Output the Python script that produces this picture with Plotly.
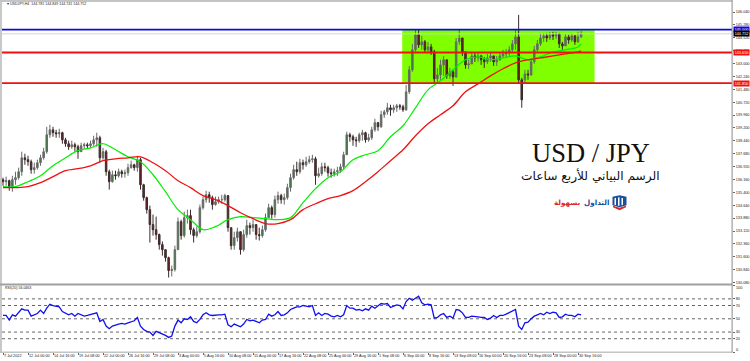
import plotly.graph_objects as go

tick_dates = ["7 Jul 2022","12 Jul 00:00","14 Jul 16:00","19 Jul 08:00","22 Jul 00:00","26 Jul 16:00",
 "29 Jul 08:00","3 Aug 00:00","5 Aug 16:00","10 Aug 08:00","15 Aug 00:00","17 Aug 16:00","22 Aug 08:00",
 "25 Aug 00:00","29 Aug 16:00","1 Sep 08:00","6 Sep 00:00","8 Sep 16:00","13 Sep 08:00","16 Sep 00:00",
 "20 Sep 16:00","23 Sep 08:00","28 Sep 00:00","30 Sep 16:00"]
price_ticks = [146.04,145.28,144.52,143.76,143.0,142.24,141.48,140.72,139.96,139.2,138.44,137.68,136.92,
 136.16,135.4,134.64,133.88,133.12,132.36,131.6,130.84,130.08]
rsi_ticks = [80,70,50,30,20]

closes = [
136.03,136.09,135.74,136.15,136.27,136.62,137.44,137.33,137.21,136.74,
136.86,137.15,137.44,137.80,138.80,139.09,138.92,138.86,138.92,138.50,
138.27,138.09,138.21,138.09,137.80,138.15,138.21,138.15,138.27,138.50,
138.62,137.44,137.80,136.62,136.03,136.44,136.38,136.62,136.50,136.56,
136.86,137.03,136.86,137.33,135.85,135.09,134.38,133.50,133.20,132.91,
132.32,132.02,131.55,130.79,130.85,132.02,133.67,132.85,133.91,134.03,
133.20,132.85,133.08,134.50,134.97,135.26,135.09,134.68,134.85,134.97,
134.97,135.21,133.32,132.26,132.73,133.08,132.02,132.91,133.44,133.32,
133.50,132.91,132.85,133.20,133.91,134.50,134.09,134.97,135.21,134.97,
135.09,135.68,136.27,136.74,136.62,137.15,137.03,137.21,137.33,137.38,
136.38,136.50,136.91,136.86,136.56,136.50,136.62,136.68,136.91,137.62,
138.80,138.68,138.50,138.45,138.80,138.92,138.50,138.62,139.09,139.51,
139.27,139.98,140.15,140.39,140.27,140.39,140.51,140.45,140.27,141.33,
142.63,143.81,144.69,144.10,144.28,143.81,143.98,143.69,142.10,142.33,
142.92,143.22,142.27,142.51,142.21,144.28,144.51,143.69,142.92,142.98,
143.45,143.33,143.45,143.22,143.10,143.33,143.45,143.10,143.22,143.45,
143.57,143.63,143.81,144.16,144.57,142.04,140.86,142.39,142.33,143.10,
143.81,144.16,144.51,144.63,144.51,144.69,144.63,144.75,144.16,144.04,
144.57,144.39,144.63,144.28,144.57,144.75]

opens = [
136.15,136.03,136.09,135.74,136.15,136.27,136.62,137.44,137.33,137.21,
136.74,136.86,137.15,137.44,137.80,138.80,139.09,138.92,138.86,138.92,
138.50,138.27,138.09,138.21,138.09,137.80,138.15,138.21,138.15,138.27,
138.50,138.62,137.44,137.80,136.62,136.03,136.44,136.38,136.62,136.50,
136.56,136.86,137.03,136.86,137.33,135.85,135.09,134.38,133.50,133.20,
132.91,132.32,132.02,131.55,130.79,130.85,132.02,133.67,132.85,133.91,
134.03,133.20,132.85,133.08,134.50,134.97,135.26,135.09,134.68,134.85,
134.97,134.97,135.21,133.32,132.26,132.73,133.08,132.02,132.91,133.44,
133.32,133.50,132.91,132.85,133.20,133.91,134.50,134.09,134.97,135.21,
134.97,135.09,135.68,136.27,136.74,136.62,137.15,137.03,137.21,137.33,
137.38,136.38,136.50,136.91,136.86,136.56,136.50,136.62,136.68,136.91,
137.62,138.80,138.68,138.50,138.45,138.80,138.92,138.50,138.62,139.09,
139.51,139.27,139.98,140.15,140.39,140.27,140.39,140.51,140.45,140.27,
141.33,142.63,143.81,144.69,144.10,144.28,143.81,143.98,143.69,142.10,
142.33,142.92,143.22,142.27,142.51,142.21,144.28,144.51,143.69,142.92,
142.98,143.45,143.33,143.45,143.22,143.10,143.33,143.45,143.10,143.22,
143.45,143.57,143.63,143.81,144.16,144.57,142.04,142.04,142.39,142.33,
143.10,143.81,144.16,144.51,144.63,144.51,144.69,144.63,144.75,144.16,
144.04,144.57,144.39,144.63,144.28,144.57]

highs = [
136.27,136.33,136.15,136.38,136.62,136.86,137.80,137.68,137.56,137.33,
137.15,137.33,137.62,138.03,139.27,139.39,139.27,139.09,139.15,138.98,
138.62,138.45,138.45,138.33,138.21,138.33,138.33,138.33,138.45,138.74,
138.92,138.74,138.03,137.91,136.74,136.68,136.68,136.80,136.74,136.74,
137.09,137.27,137.09,137.56,137.44,135.91,135.15,134.62,134.09,133.97,
132.97,132.50,132.02,131.61,131.08,132.26,133.91,133.79,134.26,134.38,
134.38,133.32,133.38,134.68,135.15,135.50,135.44,135.21,135.15,135.15,
135.26,135.32,135.03,133.32,133.08,133.32,132.91,133.20,133.79,133.62,
133.79,133.44,133.32,133.44,134.15,134.73,134.62,135.21,135.44,135.32,
135.32,135.91,136.50,137.03,137.21,137.38,137.33,137.50,137.56,137.62,
137.50,136.86,137.15,137.15,136.97,136.80,136.80,136.91,137.09,137.80,
138.98,138.92,138.80,138.68,138.92,139.09,138.98,138.86,139.27,139.74,
139.56,140.21,140.27,140.68,140.57,140.57,140.62,140.62,140.57,141.74,
142.86,144.16,144.98,144.98,144.63,144.39,144.28,144.16,143.81,142.74,
143.22,143.45,143.22,142.74,142.63,144.51,145.04,144.51,143.69,143.22,
143.69,143.63,143.69,143.51,143.39,143.57,143.63,143.45,143.45,143.63,
143.81,143.86,144.04,144.39,144.98,145.87,142.16,142.63,142.63,143.33,
144.04,144.39,144.81,144.81,144.81,144.87,144.87,144.87,144.81,144.28,
144.75,144.69,144.81,144.69,144.87,144.92]

lows = [
135.79,135.79,135.50,135.44,135.85,136.15,136.38,137.03,136.97,136.50,
136.50,136.74,136.97,137.33,137.68,138.62,138.68,138.62,138.62,138.27,
138.09,137.91,137.97,137.80,137.38,137.91,137.97,137.97,138.03,138.15,
138.09,137.15,137.33,136.38,135.56,135.97,136.15,136.27,136.27,136.27,
136.38,136.80,136.68,136.62,135.56,134.91,134.15,132.44,132.85,132.61,
132.02,131.67,131.32,130.38,130.44,130.73,132.02,132.61,132.73,133.56,
132.91,132.44,132.73,132.97,134.38,134.79,134.79,134.38,134.62,134.73,
134.73,134.85,133.08,132.02,132.02,132.50,131.73,131.91,132.73,132.91,
133.08,132.61,132.56,132.73,133.08,133.91,133.85,133.91,134.73,134.73,
134.68,134.97,135.44,136.15,136.38,136.50,136.74,136.91,137.09,137.15,
135.85,136.27,136.38,136.62,136.33,136.27,136.33,136.38,136.56,136.74,
137.62,138.39,138.15,138.09,138.33,138.45,138.33,138.39,138.50,138.98,
139.03,139.21,139.80,139.98,139.92,140.09,140.15,140.27,140.15,140.21,
141.21,142.51,143.69,143.92,143.81,143.63,143.63,143.51,141.80,141.80,
142.04,142.27,142.10,142.10,141.68,142.16,144.10,143.45,142.69,142.69,
143.22,143.10,143.10,142.92,142.74,142.98,143.10,142.86,142.86,143.16,
143.33,143.33,143.45,143.69,143.81,141.80,140.39,141.80,142.04,142.27,
142.98,143.69,144.04,144.28,144.28,144.39,144.39,144.45,143.92,143.81,
144.16,144.16,144.28,144.10,144.22,144.51]

rsi_values = [
55,55,48,56,54,60,65,63,63,54,
56,58,63,58,66,72,70,69,68,61,
58,56,58,54,58,56,54,55,56,58,
59,46,49,39,35,39,41,42,43,42,
44,46,47,52,39,34,31,30,25,31,
29,28,25,22,24,39,48,44,50,49,
53,46,44,49,56,59,56,55,56,56,
56,57,41,38,42,40,38,42,49,47,
48,46,44,48,49,57,54,56,61,55,
56,59,64,66,68,68,70,69,68,70,
55,59,55,58,57,54,53,55,53,56,
70,66,66,63,64,62,65,63,69,66,
70,73,72,73,67,69,71,70,65,76,
81,78,81,84,74,71,72,71,51,52,
56,58,52,54,51,64,63,59,52,52,
54,54,53,52,52,49,51,55,52,55,
55,57,59,61,64,39,34,44,45,50,
54,56,58,56,60,58,60,59,52,53,
57,55,55,53,57,56]

ma_index = list(range(0, 185, 4)) + [185]
ma_fast = [135.74,135.74,136.03,136.38,136.97,137.44,137.86,138.03,138.27,137.91,137.50,137.21,
136.44,135.44,134.38,133.79,133.20,133.38,133.79,133.97,133.91,133.85,133.79,133.91,134.79,135.62,
136.27,136.62,137.33,137.62,137.86,138.68,139.33,140.39,141.45,141.98,142.63,143.22,143.39,143.22,
143.33,143.45,143.22,143.39,143.69,143.81,143.98,144.16]
ma_slow = [135.68,135.68,135.74,135.97,136.33,136.68,136.80,136.97,137.27,137.38,137.44,137.50,
137.15,136.68,136.09,135.68,135.21,134.97,134.62,134.20,133.85,133.56,133.56,133.79,134.38,134.73,
135.03,135.21,135.50,136.03,136.62,137.27,137.91,138.74,139.45,139.98,140.51,141.33,141.80,142.27,
142.69,143.04,143.22,143.33,143.45,143.57,143.69,143.75]

zone_top, zone_bottom = 145.0, 141.85
support_mid = 143.65
last_price = 144.752
rsi_levels = [80, 70, 50, 30, 20]

bars = list(range(len(closes)))
FONT = "Liberation Sans, Arial, sans-serif"
UP, DOWN = "#2f7d34", "#7a1c22"
WICK = "#6a6a6a"
TINY = 3.8
INK = "#222222"

def px(x): return (x - 2) / 730
def py(y): return (352.5 - y) / 350.5

fig = go.Figure()
fig.add_trace(go.Candlestick(
    x=bars, open=opens, high=highs, low=lows, close=closes, xaxis="x", yaxis="y", whiskerwidth=0,
    increasing=dict(line=dict(color=WICK, width=1), fillcolor=UP),
    decreasing=dict(line=dict(color="#3a2a2a", width=1), fillcolor=DOWN), hoverinfo="skip"))
fig.add_trace(go.Scatter(x=ma_index, y=ma_fast, mode="lines", line=dict(color="#00ee00", width=1.2, shape="spline"),
    xaxis="x", yaxis="y", hoverinfo="skip"))
fig.add_trace(go.Scatter(x=ma_index, y=ma_slow, mode="lines", line=dict(color="#ee1111", width=1.3, shape="spline"),
    xaxis="x", yaxis="y", hoverinfo="skip"))
fig.add_trace(go.Scatter(x=bars, y=rsi_values, mode="lines", line=dict(color="#1010ee", width=1.3),
    xaxis="x2", yaxis="y2", hoverinfo="skip"))

shapes = [
    dict(type="rect", xref="x", yref="y", x0=127.75, x1=189.3, y0=zone_bottom, y1=zone_top,
         fillcolor="#7fff00", line_width=0, layer="below"),
    dict(type="line", xref="paper", yref="y", x0=0, x1=1, y0=last_price, y1=last_price,
         line=dict(color="#d4d4d4", width=1), layer="above"),
    dict(type="line", xref="paper", yref="y", x0=0, x1=1, y0=zone_top, y1=zone_top,
         line=dict(color="#0a0adf", width=1.8)),
    dict(type="line", xref="paper", yref="y", x0=0, x1=1, y0=support_mid, y1=support_mid,
         line=dict(color="#f01010", width=1.8)),
    dict(type="line", xref="paper", yref="y", x0=0, x1=1, y0=zone_bottom, y1=zone_bottom,
         line=dict(color="#f01010", width=1.8)),
]
for lv in rsi_levels:
    shapes.append(dict(type="line", xref="paper", yref="y2", x0=0, x1=1, y0=lv, y1=lv,
                       line=dict(color="#666666", width=1, dash="dot"), layer="below"))

def band(x0, x1, y0, y1, color):
    return dict(type="rect", xref="paper", yref="paper", x0=px(x0), x1=px(x1), y0=py(y1), y1=py(y0),
                fillcolor=color, line_width=0, layer="above")
shapes += [
    band(0, 2, 0, 353, "#c8c8c8"), band(0, 732, 0, 2, "#c4c4c4"),
    band(0, 732, 284, 286, "#a0a0a0"), band(0, 732, 352, 353.4, "#c4c4c4"),
    band(731.6, 732.6, 0, 353, "#8a8a8a"),
]

def poly(points, color):
    d = "M" + " L".join(f"{px(a)},{py(b)}" for a, b in points) + " Z"
    return dict(type="path", xref="paper", yref="paper", path=d, fillcolor=color, line_width=0, layer="above")
shapes += [
    poly([(612.5,197),(619.5,195.5),(626.5,197),(626.5,205.5),(619.5,207.5),(612.5,205.5)], "#1c4f9a"),
    poly([(614.5,198.5),(616,198),(616,205.5),(614.5,205)], "#ffffff"),
    poly([(618,197.8),(619.5,197.5),(619.5,206),(618,206)], "#ffffff"),
    poly([(621.5,198),(623,198.5),(623,205),(621.5,205.5)], "#ffffff"),
    poly([(613,206),(619.5,208),(626,206),(626,207.5),(619.5,210.5),(613,207.5)], "#d8262c"),
]

ann = []
def label(x, y, text, size=TINY, color=INK, anchor="left", family=FONT, **kw):
    ann.append(dict(xref="paper", yref="paper", x=px(x), y=py(y), text=text, showarrow=False,
                    xanchor=anchor, yanchor="middle", font=dict(size=size, color=color, family=family), **kw))

label(5, 4.5, "\u25be USDJPY,H4  144.781 144.849 144.741 144.752", size=3.6)
label(3, 288.5, "RSI(20) 56.0463", size=3.6)
label(734, 288, "100")
label(734, 350, "0")
for i, t in enumerate(tick_dates):
    ann.append(dict(xref="x2", yref="paper", x=i * 8, y=py(356.5), text=t, showarrow=False, xanchor="left",
                    yanchor="middle", xshift=-1, font=dict(size=TINY, color=INK, family=FONT)))

def tag(value, text, bg):
    ann.append(dict(xref="paper", yref="y", x=px(733), y=value, text=text, showarrow=False, xanchor="left",
                    yanchor="middle", bgcolor=bg, width=15, height=5, borderpad=0,
                    font=dict(size=TINY, color="#ffffff", family=FONT)))
tag(zone_top, "145.000", "#0a0adf")
tag(last_price, "144.752", "#000000")
tag(support_mid, "143.650", "#f01010")
tag(zone_bottom, "141.850", "#f01010")

label(590.5, 153, "USD / JPY", size=26.5, color="#111111", anchor="center", family="Liberation Serif, serif")
label(590.5, 176, "\u0627\u0644\u0631\u0633\u0645 \u0627\u0644\u0628\u064a\u0627\u0646\u064a \u0644\u0644\u0623\u0631\u0628\u0639 \u0633\u0627\u0639\u0627\u062a",
      size=12.2, color="#111111", anchor="center", family="DejaVu Sans, sans-serif")
label(610.5, 203, "<b>\u0627\u0644\u062a\u062f\u0627\u0648\u0644</b>", size=7.2, color="#1c4f9a", anchor="right", family="DejaVu Sans, sans-serif")
label(583, 203, "<b>\u0628\u0633\u0647\u0648\u0644\u0629</b>", size=7.2, color="#d8262c", anchor="right", family="DejaVu Sans, sans-serif")

axis_font = dict(size=TINY, color=INK, family=FONT)
fig.update_layout(
    width=750, height=361, margin=dict(l=2, r=18, t=2, b=8.5, autoexpand=False), paper_bgcolor="white", plot_bgcolor="white",
    showlegend=False, shapes=shapes, annotations=ann,
    xaxis=dict(domain=[0, 1], range=[-0.32, 233.28], rangeslider=dict(visible=False), showgrid=False,
               showticklabels=False, zeroline=False, anchor="y", ticks=""),
    xaxis2=dict(domain=[0, 1], range=[-0.32, 233.28], showgrid=False, showticklabels=False, zeroline=False,
                anchor="y2", ticks="outside", ticklen=2, tickcolor="#666666",
                tickvals=[i * 8 for i in range(len(tick_dates))]),
    yaxis=dict(domain=[68 / 350.5, 1], range=[129.99, 146.63], side="right", showgrid=False, zeroline=False,
               tickvals=price_ticks, ticktext=[f"{v:.3f}" for v in price_ticks], ticks="outside", ticklen=2,
               tickcolor="#666666", tickfont=axis_font, anchor="x"),
    yaxis2=dict(domain=[0, 66.5 / 350.5], range=[0, 100], side="right", showgrid=False, zeroline=False,
                tickvals=[100] + rsi_ticks + [0], ticktext=[""] + [str(v) for v in rsi_ticks] + [""],
                ticks="outside", ticklen=2, tickcolor="#666666", tickfont=axis_font, anchor="x2"),
)
fig.write_html("out.html", config=dict(displayModeBar=False),
               post_script="document.body.style.margin='0';document.body.style.overflow='hidden';")
